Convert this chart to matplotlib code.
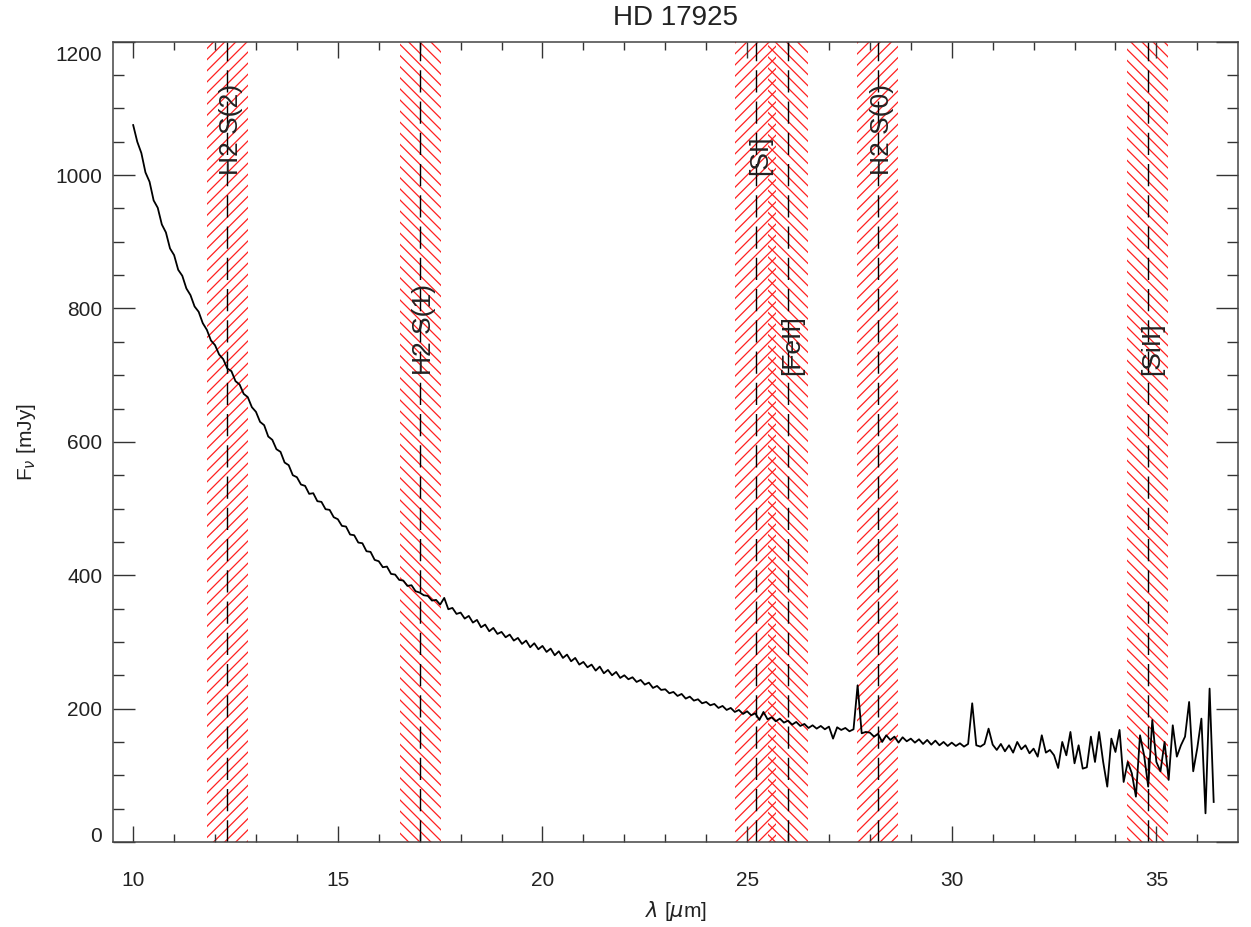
import numpy as np
import matplotlib
matplotlib.use("Agg")
import matplotlib.pyplot as plt
from matplotlib.transforms import ScaledTranslation

# spectrum of HD 17925, flux in mJy, sampled every 0.1 um from 10.0 um
FLUX = [
    1075, 1050, 1033, 1004, 990, 962, 951, 926, 914, 890,
    880, 858, 849, 830, 820, 803, 795, 778, 768, 752,
    745, 731, 724, 710, 706, 691, 686, 672, 667, 652,
    645, 630, 625, 608, 603, 589, 585, 569, 565, 550,
    547, 536, 534, 522, 523, 511, 510, 499, 498, 487,
    484, 474, 473, 461, 460, 449, 448, 436, 435, 423,
    421, 412, 413, 402, 401, 393, 392, 384, 385, 376,
    374, 370, 369, 362, 363, 356, 366, 349, 351, 342,
    344, 335, 339, 329, 333, 322, 326, 316, 321, 312,
    315, 307, 311, 302, 306, 297, 302, 292, 298, 289,
    294, 285, 290, 280, 286, 276, 281, 271, 276, 266,
    270, 262, 266, 257, 263, 253, 258, 250, 255, 246,
    250, 244, 247, 240, 243, 236, 239, 231, 234, 228,
    229, 223, 225, 219, 222, 215, 218, 212, 214, 208,
    210, 205, 207, 201, 204, 198, 201, 195, 198, 192,
    196, 190, 193, 183, 195, 184, 187, 181, 185, 179,
    182, 176, 180, 174, 177, 171, 175, 170, 174, 169,
    173, 155, 172, 168, 171, 166, 169, 235, 163, 165,
    164, 158, 162, 150, 160, 153, 158, 149, 157, 151,
    155, 149, 154, 147, 153, 146, 152, 145, 150, 144,
    149, 144, 148, 143, 147, 208, 145, 143, 147, 170,
    146, 138, 147, 136, 145, 134, 150, 139, 145, 133,
    140, 128, 160, 134, 138, 130, 111, 150, 130, 165,
    118, 145, 110, 112, 158, 120, 165, 120, 83, 155,
    135, 168, 90, 120, 103, 68, 160, 130, 83, 183,
    120, 106, 150, 93, 175, 128, 145, 158, 210, 106,
    141, 185, 43, 230, 60,
]
WAVE_START = 10.0
WAVE_STEP = 0.1

# emission lines marked on the plot
LINE_NAMES = ["H2 S(2)", "H2 S(1)", "[SI]", "[FeII]", "H2 S(0)", "[SiII]"]
LINE_WAVES = [12.30, 17.01, 25.21, 26.00, 28.19, 34.79]
LINE_LABEL_Y = [1000, 700, 1000, 700, 1000, 700]
LINE_HATCH = ["///", "\\\\\\", "///", "\\\\\\", "///", "\\\\\\"]
HALF_WIDTH = 0.5

wave = WAVE_START + WAVE_STEP * np.arange(len(FLUX))
flux = np.array(FLUX)

plt.rcParams["font.family"] = ["Liberation Sans", "DejaVu Sans"]
plt.rcParams["hatch.linewidth"] = 0.9
plt.rcParams["hatch.color"] = "#ff2020"

fig = plt.figure(figsize=(12.51, 9.27), dpi=100)
ax = fig.add_axes([0.0901, 0.0917, 0.8997, 0.8633])

txt = "#222222"

for name, w, ly, h in zip(LINE_NAMES, LINE_WAVES, LINE_LABEL_Y, LINE_HATCH):
    ax.axvspan(w - HALF_WIDTH, w + HALF_WIDTH, facecolor="none", edgecolor="#ff2020",
               hatch=h, linewidth=0, zorder=1)
    ax.axvline(w, color="black", lw=1.0, dashes=(16, 6.5), zorder=2)
    # labels sit a touch right of the line, as in the original
    ax.text(w + 0.1, ly, name, rotation=90, ha="center", va="bottom", fontsize=19,
            color=txt, zorder=4)

ax.plot(wave, flux, color="black", lw=1.3, zorder=3)

ax.set_xlim(9.5, 37.0)
ax.set_ylim(0, 1200)
ax.set_xticks([10, 15, 20, 25, 30, 35])
ax.set_xticks(np.arange(10, 37, 1), minor=True)
ax.set_yticks([0, 200, 400, 600, 800, 1000, 1200])
ax.set_yticks(np.arange(0, 1201, 50), minor=True)

ax.tick_params(axis="both", which="both", direction="in", top=True, right=True,
               colors="#333333", labelcolor=txt, labelsize=15, width=1.0)
ax.tick_params(axis="x", which="major", length=11.5, pad=21)
ax.tick_params(axis="x", which="minor", length=6)
ax.tick_params(axis="y", which="major", length=16, pad=7.5)
ax.tick_params(axis="y", which="minor", length=8)
for s in ax.spines.values():
    s.set_linewidth(1.1)
    s.set_color("#444444")

# IDL style: end labels pulled inside the axis
ylabels = ax.get_yticklabels()
shift = ScaledTranslation(0, -4 / 100, fig.dpi_scale_trans)
ylabels[0].set_va("bottom")
ylabels[0].set_transform(ylabels[0].get_transform() + shift)
ylabels[-1].set_va("top")
ylabels[-1].set_transform(ylabels[-1].get_transform() + shift)

ax.set_xlabel(r"$\lambda$ [$\mu$m]", fontsize=15, color=txt)
ax.xaxis.set_label_coords(0.5, -0.071)
ax.set_ylabel(r"F$_\nu$ [mJy]", fontsize=15, color=txt)
ax.yaxis.set_label_coords(-0.066, 0.5)

fig.text(0.54, 1 - 18 / 927, "HD 17925", ha="center", va="center", fontsize=20, color=txt)

fig.savefig("out.png", dpi=100)
